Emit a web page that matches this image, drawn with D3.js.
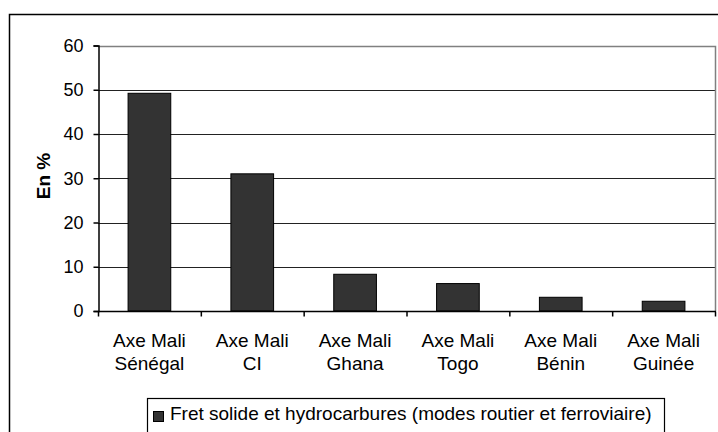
<!DOCTYPE html>
<html>
<head>
<meta charset="utf-8">
<script src="https://cdn.jsdelivr.net/npm/d3@7"></script>
<style>
  body { margin: 0; background: #fff; }
  svg { display: block; font-family: "Liberation Sans", Arial, sans-serif; }
</style>
</head>
<body>
<div id="chart"></div>
<script>
var categories = [["Axe Mali", "Sénégal"], ["Axe Mali", "CI"], ["Axe Mali", "Ghana"],
                  ["Axe Mali", "Togo"], ["Axe Mali", "Bénin"], ["Axe Mali", "Guinée"]];
var values = [49.2, 31, 8.3, 6.2, 3.1, 2.2];
var yTicks = [0, 10, 20, 30, 40, 50, 60];
var seriesName = "Fret solide et hydrocarbures (modes routier et ferroviaire)";

function barChart() {
    var width = 718, height = 432;
    var left = 98, right = 715, top = 45.5, bottom = 311;

    var svg = d3.select('#chart')
      .append('svg')
      .attr('width', width)
      .attr('height', height);

    // outer frame (runs off the right and bottom edges)
    svg.append('rect')
      .attr('x', 9.5).attr('y', 14.5)
      .attr('width', 760).attr('height', 460)
      .attr('fill', 'none').attr('stroke', '#000').attr('stroke-width', 1.5);

    var x = d3.scaleBand()
      .domain(d3.range(categories.length))
      .range([left, right])
      .paddingInner(0.585).paddingOuter(0.2925);
    var xTicks = d3.scaleBand().domain(d3.range(categories.length)).range([left, right]);

    var y = d3.scaleLinear().domain([0, 60]).range([bottom, top]);

    // gridlines
    svg.selectAll('line.grid')
      .data(yTicks.slice(1, -1))
      .enter().append('line')
      .attr('class', 'grid')
      .attr('x1', left).attr('x2', right)
      .attr('y1', function(d) { return Math.round(y(d)) + 0.5; })
      .attr('y2', function(d) { return Math.round(y(d)) + 0.5; })
      .attr('stroke', '#222').attr('stroke-width', 1);

    // plot area border (top/right)
    svg.append('path')
      .attr('d', 'M' + left + ',' + (Math.round(top) + 0.5) + 'H' + (right + 0.5) + 'V' + bottom)
      .attr('fill', 'none').attr('stroke', '#808080').attr('stroke-width', 1.5);

    // bars
    svg.selectAll('rect.bar')
      .data(values)
      .enter().append('rect')
      .attr('class', 'bar')
      .attr('x', function(d, i) { return x(i); })
      .attr('y', function(d) { return y(d); })
      .attr('width', x.bandwidth())
      .attr('height', function(d) { return bottom - y(d); })
      .attr('fill', '#333333')
      .attr('stroke', '#000').attr('stroke-width', 1);

    // y axis
    var yAxis = svg.append('g')
      .attr('transform', 'translate(' + (left + 0.5) + ',0)')
      .call(d3.axisLeft(y).tickValues(yTicks).tickSize(5).tickPadding(10));
    yAxis.select('.domain').attr('stroke', '#000').attr('stroke-width', 1.5);
    yAxis.selectAll('.tick line').attr('stroke', '#000').attr('stroke-width', 1.5);
    yAxis.selectAll('.tick text').attr('font-size', 18).attr('fill', '#000')
      .attr('font-family', '"Liberation Sans", Arial, sans-serif');

    // x axis
    var xAxis = svg.append('g')
      .attr('transform', 'translate(0,' + (bottom + 0.5) + ')');
    xAxis.append('line')
      .attr('x1', left).attr('x2', right + 1)
      .attr('stroke', '#000').attr('stroke-width', 1.5);
    xAxis.selectAll('line.tk')
      .data(d3.range(categories.length + 1))
      .enter().append('line')
      .attr('class', 'tk')
      .attr('x1', function(i) { return i < categories.length ? xTicks(i) + 0.5 : right + 0.5; })
      .attr('x2', function(i) { return i < categories.length ? xTicks(i) + 0.5 : right + 0.5; })
      .attr('y1', 0).attr('y2', 5)
      .attr('stroke', '#000').attr('stroke-width', 1.5);
    var lab = xAxis.selectAll('text.lab')
      .data(categories)
      .enter().append('text')
      .attr('class', 'lab')
      .attr('text-anchor', 'middle')
      .attr('font-size', 19)
      .attr('x', function(d, i) { return xTicks(i) + xTicks.bandwidth() / 2; })
      .attr('y', 35);
    lab.selectAll('tspan')
      .data(function(d) { return d; })
      .enter().append('tspan')
      .attr('x', function() { return d3.select(this.parentNode).attr('x'); })
      .attr('dy', function(d, j) { return j === 0 ? 0 : 23; })
      .text(function(d) { return d; });

    // y label
    svg.append('text')
      .attr('transform', 'translate(50,' + 176 + ') rotate(-90)')
      .attr('text-anchor', 'middle')
      .attr('font-size', 19).attr('font-weight', 'bold')
      .text('En %');

    // legend
    var lg = svg.append('g');
    lg.append('rect')
      .attr('x', 147.5).attr('y', 398.5)
      .attr('width', 517).attr('height', 40)
      .attr('fill', '#fff').attr('stroke', '#000').attr('stroke-width', 1.2);
    lg.append('rect')
      .attr('x', 153.5).attr('y', 411.5)
      .attr('width', 10).attr('height', 10)
      .attr('fill', '#333333').attr('stroke', '#000');
    lg.append('text')
      .attr('x', 170).attr('y', 420)
      .attr('font-size', 19)
      .text(seriesName);
}

barChart();
</script>
</body>
</html>
